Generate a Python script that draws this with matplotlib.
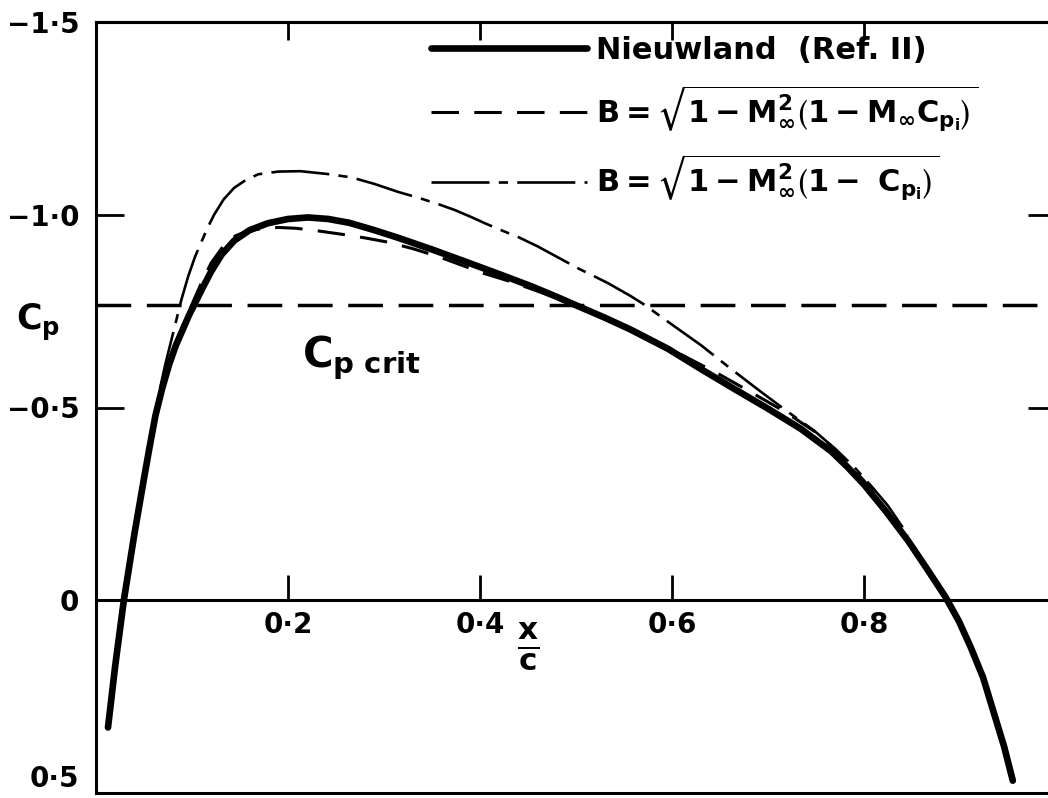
# -*- coding: utf-8 -*-
"""
Pressure distribution Cp vs x/c, compressibility corrections compared with Nieuwland
"""
#%%Import packages
import matplotlib
matplotlib.use('Agg')
import matplotlib.pyplot as plt

plt.rcParams['font.family'] = ['DejaVu Sans']
plt.rcParams['font.weight'] = 'bold'
plt.rcParams['mathtext.fontset'] = 'dejavusans'
plt.rcParams['mathtext.default'] = 'bf'
#%%Data
x_nieuwland = [0.0125, 0.020, 0.029, 0.040, 0.050, 0.056, 0.062, 0.069, 0.076, 0.083, 0.090,
               0.097, 0.103, 0.111, 0.120, 0.131, 0.144, 0.160, 0.179, 0.200, 0.221, 0.242,
               0.264, 0.290, 0.315, 0.350, 0.383, 0.420, 0.453, 0.480, 0.502, 0.530, 0.557,
               0.596, 0.630, 0.665, 0.700, 0.734, 0.766, 0.783, 0.800, 0.823, 0.846, 0.866,
               0.885, 0.899, 0.911, 0.924, 0.935, 0.946, 0.955]
cp_nieuwland = [0.33, 0.17, 0.0, -0.172, -0.316, -0.40, -0.48, -0.55, -0.61, -0.66, -0.70,
                -0.74, -0.77, -0.81, -0.853, -0.897, -0.933, -0.960, -0.978, -0.989, -0.993, -0.989,
                -0.979, -0.960, -0.940, -0.910, -0.880, -0.846, -0.815, -0.787, -0.763, -0.733, -0.702,
                -0.652, -0.600, -0.548, -0.497, -0.445, -0.386, -0.345, -0.300, -0.230, -0.154, -0.080,
                -0.008, 0.055, 0.121, 0.200, 0.290, 0.380, 0.468]

x_mcp = [0.0125, 0.020, 0.029, 0.040, 0.050, 0.056, 0.062, 0.069, 0.076, 0.083, 0.090, 0.097,
         0.103, 0.111, 0.120, 0.133, 0.145, 0.158, 0.175, 0.190, 0.208, 0.226, 0.257, 0.280,
         0.304, 0.330, 0.356, 0.380, 0.404, 0.430, 0.453, 0.480, 0.502, 0.530, 0.557, 0.585,
         0.613, 0.650, 0.682, 0.717, 0.752, 0.776, 0.800, 0.823, 0.846]
cp_mcp = [0.33, 0.17, 0.0, -0.175, -0.32, -0.405, -0.485, -0.555, -0.615, -0.665, -0.71, -0.75,
          -0.785, -0.83, -0.875, -0.920, -0.945, -0.958, -0.965, -0.967, -0.965, -0.960, -0.949, -0.940,
          -0.929, -0.912, -0.892, -0.870, -0.848, -0.828, -0.808, -0.784, -0.762, -0.732, -0.700, -0.668,
          -0.633, -0.585, -0.540, -0.490, -0.432, -0.375, -0.310, -0.236, -0.157]

x_cp = [0.0125, 0.020, 0.029, 0.040, 0.050, 0.058, 0.065, 0.072, 0.078, 0.084, 0.089, 0.096,
        0.103, 0.109, 0.116, 0.123, 0.133, 0.144, 0.156, 0.169, 0.190, 0.213, 0.240, 0.266,
        0.290, 0.315, 0.336, 0.356, 0.374, 0.390, 0.406, 0.422, 0.440, 0.460, 0.480, 0.503,
        0.533, 0.557, 0.571, 0.600, 0.630, 0.660, 0.693, 0.720, 0.748, 0.770, 0.790, 0.808,
        0.825, 0.846]
cp_cp = [0.33, 0.17, 0.0, -0.18, -0.33, -0.44, -0.53, -0.61, -0.67, -0.73, -0.78, -0.84,
         -0.89, -0.925, -0.965, -1.0, -1.04, -1.07, -1.09, -1.105, -1.112, -1.113, -1.106, -1.097,
         -1.080, -1.059, -1.044, -1.028, -1.012, -0.995, -0.977, -0.960, -0.942, -0.918, -0.891, -0.860,
         -0.823, -0.789, -0.767, -0.715, -0.662, -0.603, -0.540, -0.490, -0.440, -0.393, -0.345, -0.295,
         -0.245, -0.168]

cp_crit = -0.765

ytick_vals = [-1.5, -1.0, -0.5, 0, 0.5]
ytick_labels = ['\u22121\u00b75', '\u22121\u00b70', '\u22120\u00b75', '0', '0\u00b75']
xtick_vals = [0.2, 0.4, 0.6, 0.8]
xtick_labels = ['0\u00b72', '0\u00b74', '0\u00b76', '0\u00b78']
legend_labels = ['Nieuwland  (Ref. II)',
                 r'$B = \sqrt{1-M_\infty^2\left(1-M_\infty C_{p_i}\right)}$',
                 r'$B = \sqrt{1-M_\infty^2\left(1-\ C_{p_i}\right)}$']
#%%Plot
fig = plt.figure(figsize=(10.48, 7.98), dpi=100)
ax = fig.add_axes([96/1048, 5/798, 960/1048, 771/798])

l1, = ax.plot(x_nieuwland, cp_nieuwland, 'k-', lw=4.8, solid_capstyle='round', solid_joinstyle='round')
l2, = ax.plot(x_mcp, cp_mcp, color='k', lw=2.2, linestyle=(0, (9, 5)))
l3, = ax.plot(x_cp, cp_cp, color='k', lw=1.9, linestyle=(0, (22, 3.5, 3.5, 3.5)))
ax.axhline(cp_crit, color='k', lw=2.5, linestyle=(0, (10, 4.5))) #critical Cp line

ax.set_xlim(0, 1.0)
ax.set_ylim(0.5, -1.5)
ax.spines['bottom'].set_position(('data', 0)) #zero line carries the x ticks
ax.axhline(0.5, color='k', lw=2.2, clip_on=False) #bottom frame
for s in ax.spines.values():
    s.set_linewidth(2.2)

ax.set_xticks(xtick_vals)
ax.set_xticklabels(xtick_labels)
ax.set_yticks(ytick_vals)
ax.set_yticklabels(ytick_labels)
ax.get_yticklabels()[-1].set_va('bottom') #0.5 label sits above the bottom frame
ax.tick_params(axis='x', direction='in', length=18, width=2, top=False, labelsize=20, pad=8)
ax.tick_params(axis='y', direction='in', length=20, width=2, right=True, labelsize=20, pad=12)
top = ax.secondary_xaxis('top') #short ticks along the top frame
top.set_xticks(xtick_vals)
top.tick_params(direction='in', length=13, width=2, labeltop=False)
top.spines['top'].set_linewidth(2.2)

ax.set_ylabel(r'$C_p$', rotation=0, fontsize=25, va='center')
ax.yaxis.set_label_coords(-0.06, 0.61)
ax.text(0.45, 0.19, r'$\frac{x}{c}$', transform=ax.transAxes, fontsize=32, ha='center', va='center')
ax.text(0.215, -0.63, r'$C_{p\ crit}$', fontsize=30, ha='left', va='center')

ax.legend([l1, l2, l3], legend_labels, loc='upper left', bbox_to_anchor=(0.335, 1.0),
          frameon=False, fontsize=22, handlelength=5.1, handletextpad=0.3, labelspacing=0.62,
          borderaxespad=0.05)

plt.savefig('out.png', dpi=100)
